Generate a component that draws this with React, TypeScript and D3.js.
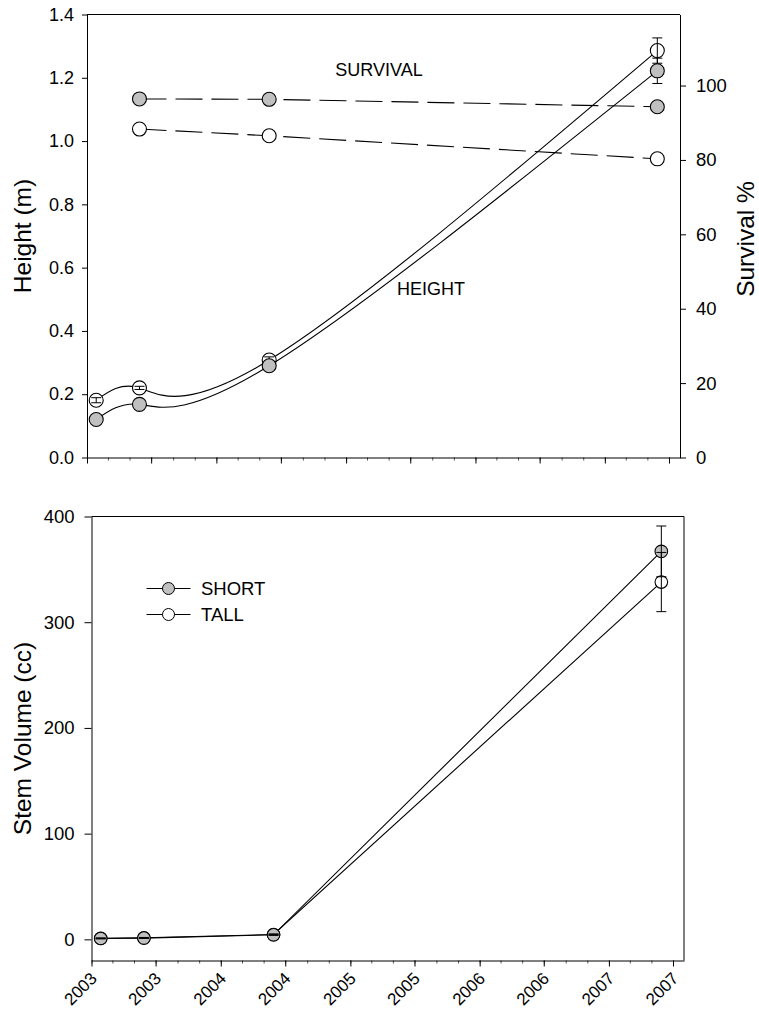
import React, { useEffect, useRef } from 'react';
import * as d3 from 'd3';

// sampling dates (same for both panels)
const sampleDates = ['2003-01-27', '2003-05-29', '2004-05-29', '2007-05-29'];
const survivalDates = ['2003-05-29', '2004-05-29', '2007-05-29'];

// top panel: height (m)
const heightShort = [0.12, 0.168, 0.29, 1.222];
const heightShortErr = [0.004, 0.004, 0.008, 0.04];
const heightTall = [0.181, 0.22, 0.308, 1.286];
const heightTallErr = [0.008, 0.005, 0.01, 0.04];

// top panel: survival %
const survivalShort = [96.4, 96.3, 94.3];
const survivalTall = [88.3, 86.5, 80.3];

// bottom panel: stem volume (cc)
const volumeShort = [0.8, 1.2, 4.3, 367];
const volumeShortErr = [0.3, 0.3, 0.5, 24];
const volumeTall = [1.0, 1.5, 4.6, 338];
const volumeTallErr = [0.3, 0.3, 0.5, 28];

const heightTicks = [0, 0.2, 0.4, 0.6, 0.8, 1.0, 1.2, 1.4];
const survivalTicks = [0, 20, 40, 60, 80, 100];
const volumeTicks = [0, 100, 200, 300, 400];
const seriesNames = ['SHORT', 'TALL'];

const FONT = '"Liberation Sans", Arial, Helvetica, sans-serif';
const FILL = '#c0c0c0';

const App = () => {
  const svgRef = useRef(null);

  useEffect(() => {
    const svg = d3.select(svgRef.current);
    svg.selectAll('*').remove();

    const parse = d3.timeParse('%Y-%m-%d');
    const dates = sampleDates.map(parse);
    const sDates = survivalDates.map(parse);
    const domain = [new Date(2003, 0, 1), new Date(2007, 7, 1)];

    // scales
    const xTop = d3.scaleTime().domain(domain).range([87, 680]);
    const yTop = d3.scaleLinear().domain([0, 1.4]).range([457.5, 14.5]);
    const ySurv = d3.scaleLinear().domain([0, 119.1]).range([457.5, 14.5]);
    const xBot = d3.scaleTime().domain(domain).range([91.5, 684]);
    const yBot = d3.scaleLinear().domain([-20, 400]).range([960.5, 516.5]);

    const styleAxis = (g, size) => {
      g.attr('font-family', FONT).attr('font-size', size);
      g.selectAll('line').attr('stroke', '#000');
      g.select('.domain').attr('stroke', '#000');
      g.selectAll('text').attr('fill', '#000');
    };

    // ---------- top panel ----------
    svg.append('line')
      .attr('x1', 87).attr('x2', 680).attr('y1', 14.5).attr('y2', 14.5)
      .attr('stroke', '#000');

    // minor x ticks
    svg.append('g')
      .attr('transform', `translate(0,${yTop(0)})`)
      .call(d3.axisBottom(xTop).ticks(d3.timeMonth.every(2)).tickSize(3).tickSizeOuter(0).tickFormat(() => ''))
      .call(g => g.select('.domain').remove())
      .call(g => g.selectAll('line').attr('stroke', '#555'));

    svg.append('g')
      .attr('transform', `translate(0,${yTop(0)})`)
      .call(d3.axisBottom(xTop).ticks(d3.timeMonth.every(6)).tickSize(6).tickSizeOuter(0).tickFormat(() => ''))
      .call(g => styleAxis(g, 18));

    svg.append('g')
      .attr('transform', 'translate(87,0)')
      .call(d3.axisLeft(yTop).tickValues(heightTicks).tickFormat(d3.format('.1f')).tickSize(5).tickPadding(8).tickSizeOuter(0))
      .call(g => styleAxis(g, 18));

    svg.append('g')
      .attr('transform', 'translate(680,0)')
      .call(d3.axisRight(ySurv).tickValues(survivalTicks).tickSize(6).tickPadding(10).tickSizeOuter(0))
      .call(g => styleAxis(g, 18.5));

    svg.append('text')
      .attr('transform', `translate(31,${(14.5 + 457.5) / 2}) rotate(-90)`)
      .attr('text-anchor', 'middle')
      .attr('font-family', FONT).attr('font-size', 24.5)
      .text('Height (m)');

    svg.append('text')
      .attr('transform', `translate(754,${(14.5 + 457.5) / 2 + 3}) rotate(-90)`)
      .attr('text-anchor', 'middle')
      .attr('font-family', FONT).attr('font-size', 24.5)
      .text('Survival %');

    // survival lines (dashed)
    const survLine = d3.line().x((d, i) => xTop(sDates[i])).y(d => ySurv(d));
    [survivalTall, survivalShort].forEach(vals => {
      svg.append('path')
        .attr('d', survLine(vals))
        .attr('fill', 'none').attr('stroke', '#000').attr('stroke-width', 1.1)
        .attr('stroke-dasharray', '27,9');
    });
    const survMarkers = (vals, fill) => {
      svg.append('g').selectAll('circle').data(vals).enter().append('circle')
        .attr('cx', (d, i) => xTop(sDates[i])).attr('cy', d => ySurv(d)).attr('r', 7)
        .attr('fill', fill).attr('stroke', '#000').attr('stroke-width', 1.1);
    };
    survMarkers(survivalTall, '#fff');
    survMarkers(survivalShort, FILL);

    const drawLine = (vals, line) => {
      svg.append('path')
        .attr('d', line(vals))
        .attr('fill', 'none').attr('stroke', '#000').attr('stroke-width', 1.1);
    };
    const drawMarkers = (vals, fill, x, y, r) => {
      svg.append('g').selectAll('circle').data(vals).enter().append('circle')
        .attr('cx', (d, i) => x(dates[i])).attr('cy', d => y(d)).attr('r', r)
        .attr('fill', fill).attr('stroke', '#000').attr('stroke-width', 1.1);
    };
    const drawErrors = (vals, errs, x, y) => {
      const g = svg.append('g').attr('stroke', '#000').attr('stroke-width', 1);
      vals.forEach((v, i) => {
        const cx = x(dates[i]);
        g.append('line').attr('x1', cx).attr('x2', cx).attr('y1', y(v - errs[i])).attr('y2', y(v + errs[i]));
        g.append('line').attr('x1', cx - 5).attr('x2', cx + 5).attr('y1', y(v - errs[i])).attr('y2', y(v - errs[i]));
        g.append('line').attr('x1', cx - 5).attr('x2', cx + 5).attr('y1', y(v + errs[i])).attr('y2', y(v + errs[i]));
      });
    };

    // height curves
    const hLine = d3.line().x((d, i) => xTop(dates[i])).y(d => yTop(d)).curve(d3.curveNatural);
    drawLine(heightTall, hLine);
    drawMarkers(heightTall, '#fff', xTop, yTop, 7);
    drawErrors(heightTall, heightTallErr, xTop, yTop);
    drawLine(heightShort, hLine);
    drawErrors(heightShort, heightShortErr, xTop, yTop);
    drawMarkers(heightShort, FILL, xTop, yTop, 7);

    svg.append('text')
      .attr('x', 379).attr('y', 76).attr('text-anchor', 'middle')
      .attr('font-family', FONT).attr('font-size', 18)
      .text('SURVIVAL');
    svg.append('text')
      .attr('x', 431).attr('y', 295).attr('text-anchor', 'middle')
      .attr('font-family', FONT).attr('font-size', 18)
      .text('HEIGHT');

    // ---------- bottom panel ----------
    svg.append('path')
      .attr('d', `M91.5,516.5H684V960.5`)
      .attr('fill', 'none').attr('stroke', '#000');

    svg.append('g')
      .attr('transform', `translate(0,${yBot.range()[0]})`)
      .call(d3.axisBottom(xBot).ticks(d3.timeMonth.every(2)).tickSize(3).tickSizeOuter(0).tickFormat(() => ''))
      .call(g => g.select('.domain').remove())
      .call(g => g.selectAll('line').attr('stroke', '#555'));

    svg.append('g')
      .attr('transform', `translate(0,${yBot.range()[0]})`)
      .call(d3.axisBottom(xBot).ticks(d3.timeMonth.every(6)).tickSize(6).tickSizeOuter(0).tickFormat(d3.timeFormat('%Y')))
      .call(g => styleAxis(g, 17))
      .call(g => g.selectAll('text')
        .attr('y', null).attr('dy', null)
        .attr('text-anchor', 'end')
        .attr('transform', 'translate(6,19) rotate(-45)'));

    svg.append('g')
      .attr('transform', 'translate(91.5,0)')
      .call(d3.axisLeft(yBot).tickValues(volumeTicks).tickSize(7).tickPadding(10).tickSizeOuter(0))
      .call(g => styleAxis(g, 18.5));

    svg.append('text')
      .attr('transform', `translate(31,${(516.5 + 960.5) / 2}) rotate(-90)`)
      .attr('text-anchor', 'middle')
      .attr('font-family', FONT).attr('font-size', 24.5)
      .text('Stem Volume (cc)');

    const vLine = d3.line().x((d, i) => xBot(dates[i])).y(d => yBot(d));
    drawLine(volumeTall, vLine);
    drawMarkers(volumeTall, '#fff', xBot, yBot, 6.3);
    drawLine(volumeShort, vLine);
    drawMarkers(volumeShort, FILL, xBot, yBot, 6.3);
    drawErrors(volumeTall, volumeTallErr, xBot, yBot);
    drawErrors(volumeShort, volumeShortErr, xBot, yBot);

    // legend
    const legend = svg.append('g').attr('font-family', FONT).attr('font-size', 18.5);
    seriesNames.forEach((name, i) => {
      const ly = 588.5 + i * 26;
      legend.append('line')
        .attr('x1', 146.5).attr('x2', 190.5).attr('y1', ly).attr('y2', ly)
        .attr('stroke', '#000');
      legend.append('circle')
        .attr('cx', 168.5).attr('cy', ly).attr('r', 6)
        .attr('fill', i === 0 ? FILL : '#fff').attr('stroke', '#000');
      legend.append('text')
        .attr('x', 201).attr('y', ly + 6.5)
        .text(name);
    });
  }, []);

  return (
    <svg
      ref={svgRef}
      width={759}
      height={1009}
      style={{ position: 'absolute', left: 0, top: 0, background: '#fff' }}
    ></svg>
  );
};

export default App;
